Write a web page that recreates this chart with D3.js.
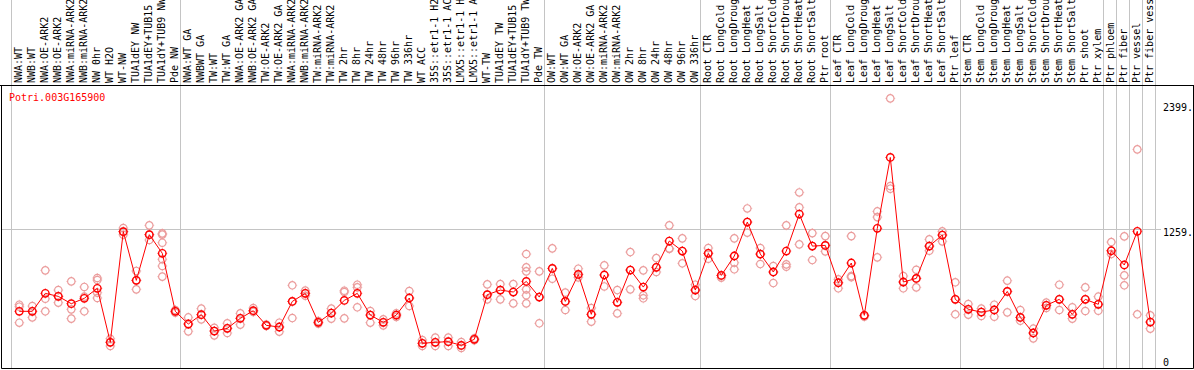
<!DOCTYPE html>
<html>
<head>
<meta charset="utf-8">
<script src="https://cdn.jsdelivr.net/npm/d3@7"></script>
<style>
  body { margin: 0; background: #fff; }
  svg { display: block; }
  text { font-family: "DejaVu Sans Mono", "Liberation Mono", monospace; font-size: 10px; }
</style>
</head>
<body>
<div id="chart"></div>
<script>
// Expression profile of one gene across samples

const geneName = "Potri.003G165900";

const sampleLabels = [
  "NWA:WT", "NWB:WT", "NWA:OE-ARK2", "NWB:OE-ARK2", "NWA:miRNA-ARK2", "NWB:miRNA-ARK2",
  "NW 0hr", "WT H2O", "WT-NW", "TUA1dEY NW", "TUA1dEY+TUB15 NW", "TUA1dY+TUB9 NW", "Pde NW",
  "NWA:WT GA", "NWBWT GA", "TW:WT", "TW:WT GA", "NWA:OE-ARK2 GA", "NWB:OE-ARK2 GA",
  "TW:OE-ARK2", "TW:OE-ARK2 GA", "NWA:miRNA-ARK2", "NWB:miRNA-ARK2", "TW:miRNA-ARK2",
  "TW:miRNA-ARK2", "TW 2hr", "TW 8hr", "TW 24hr", "TW 48hr", "TW 96hr", "TW 336hr",
  "WT ACC", "35S::etr1-1 H2O", "35S::etr1-1 ACC", "LMX5::etr1-1 H2O", "LMX5::etr1-1 ACC",
  "WT-TW", "TUA1dEY TW", "TUA1dEY+TUB15 TW", "TUA1dY+TUB9 TW", "Pde TW",
  "OW:WT", "OW:WT GA", "OW:OE-ARK2", "OW:OE-ARK2 GA", "OW:miRNA-ARK2", "OW:miRNA-ARK2",
  "OW 2hr", "OW 8hr", "OW 24hr", "OW 48hr", "OW 96hr", "OW 336hr",
  "Root CTR", "Root LongCold", "Root LongDrought", "Root LongHeat", "Root LongSalt",
  "Root ShortCold", "Root ShortDrought", "Root ShortHeat", "Root ShortSalt", "Ptr root",
  "Leaf CTR", "Leaf LongCold", "Leaf LongDrought", "Leaf LongHeat", "Leaf LongSalt",
  "Leaf ShortCold", "Leaf ShortDrought", "Leaf ShortHeat", "Leaf ShortSalt", "Ptr leaf",
  "Stem CTR", "Stem LongCold", "Stem LongDrought", "Stem LongHeat", "Stem LongSalt",
  "Stem ShortCold", "Stem ShortDrought", "Stem ShortHeat", "Stem ShortSalt", "Ptr shoot",
  "Ptr xylem", "Ptr phloem", "Ptr fiber", "Ptr vessel", "Ptr fiber vessel"
];

// group boundaries (index of first sample after each separator)
const groupBreaks = [0, 13, 41, 53, 63, 73, 84, 85, 86, 87, 88];

const meanValues = [
  459, 459, 633, 604, 533, 585, 682, 159, 1231, 759, 1202, 1021, 459,
  336, 427, 268, 294, 391, 465, 323, 307, 555, 633, 352, 442, 565, 633, 423, 352, 423, 588,
  149, 159, 165, 129, 188, 620, 665, 646, 749, 597,
  875, 555, 817, 430, 811, 546, 859, 694, 885, 1140, 1043, 665,
  1021, 807, 995, 1324, 1014, 840, 1043, 1401, 1091, 1098,
  736, 927, 420, 1263, 1950, 743, 778, 1091, 1198, 575,
  478, 452, 472, 652, 400, 249, 517, 575, 430, 575, 527,
  1046, 908, 1234, 355
];

const replicateValues = [
  [523, 504, 349], [510, 459, 400], [856, 581, 459], [665, 604, 543], [749, 478, 388],
  [695, 601, 459], [782, 762, 640, 588], [194, 159, 123], [1266, 1231, 1201], [850, 759, 672],
  [1292, 1202, 1150], [1214, 1202, 1124, 963, 898, 795], [472, 459, 446],
  [400, 336, 265], [485, 427, 381], [300, 268, 226], [343, 294, 249], [439, 391, 330],
  [491, 465, 453], [330, 323, 317], [349, 307, 262], [711, 555, 394], [660, 633, 610],
  [365, 352, 340], [485, 442, 388], [659, 646, 391], [717, 691, 498], [462, 423, 349],
  [381, 352, 323], [440, 423, 405], [656, 588, 511], [181, 149, 123], [204, 159, 123],
  [204, 165, 123], [162, 129, 104], [197, 188, 178], [720, 620, 575], [723, 665, 575],
  [723, 646, 536], [1014, 885, 846, 672, 614, 536], [846, 597, 343],
  [1069, 875, 775], [640, 555, 472], [872, 817, 788], [491, 430, 359], [904, 811, 700],
  [665, 546, 439], [1033, 859, 672], [856, 614, 585], [975, 885, 840], [1292, 1066, 1066],
  [1166, 1043, 924], [717, 665, 607],
  [1072, 1021, 969], [807, 785], [1166, 995, 930, 866], [1456, 1324, 1221], [1072, 1014, 917],
  [898, 840, 733], [1292, 914, 891], [1611, 1466, 1108], [1217, 1091, 956], [1188, 1098, 1040],
  [769, 736, 682], [1188, 801, 790], [420, 407], [1427, 1372, 982], [2522, 1673, 1647],
  [801, 743, 682], [862, 778, 691], [1156, 1091, 1046], [1234, 1198, 1137], [740, 575, 430],
  [530, 478, 427], [485, 452, 414], [523, 472, 407], [756, 652, 449], [472, 400, 368],
  [291, 249, 197], [543, 517, 491], [717, 575, 472], [498, 430, 388], [691, 575, 462],
  [601, 527, 465], [1130, 1046, 1014], [1185, 807, 711], [2028, 430], [420, 355, 291]
];

const yTickValues = [0, 1259, 2399];

// layout
const width = 1194, height = 370;
const plotTop = 85.5, plotBottom = 368.5, plotLeft = 1.5, plotRight = 1193.5;
const labelBase = 83;
const meanColor = "#ff0000";
const repColor = "#eb9c9c";
const gridColor = "#c4c4c4";

const svg = d3.select("#chart").append("svg")
  .attr("width", width)
  .attr("height", height);

const x = d3.scaleBand()
  .domain(d3.range(sampleLabels.length))
  .range([10.7, 10.7 + 13 * sampleLabels.length])
  .paddingInner(0).paddingOuter(0);
const cx = i => x(i) + 8.6;

const y = d3.scaleLinear()
  .domain([0, 2399])
  .range([358.7, 111.1]);

// vertical group separators (full height)
svg.append("g")
  .selectAll("line")
  .data(groupBreaks)
  .join("line")
  .attr("x1", d => Math.round(x(d) ?? x(d - 1) + 13) + 0.5)
  .attr("x2", d => Math.round(x(d) ?? x(d - 1) + 13) + 0.5)
  .attr("y1", 0)
  .attr("y2", plotBottom)
  .attr("stroke", gridColor)
  .attr("stroke-width", 1);

// horizontal grid line at middle tick
svg.append("line")
  .attr("x1", plotLeft)
  .attr("x2", 1161)
  .attr("y1", Math.round(y(1259)) + 0.5)
  .attr("y2", Math.round(y(1259)) + 0.5)
  .attr("stroke", gridColor);

// frame
svg.append("line")
  .attr("x1", 0).attr("x2", width)
  .attr("y1", plotTop).attr("y2", plotTop)
  .attr("stroke", "#000");
svg.append("path")
  .attr("d", `M${plotLeft},${plotTop}V${plotBottom}H${plotRight}V${plotTop}`)
  .attr("fill", "none")
  .attr("stroke", "#000");

// rotated sample labels
svg.append("g")
  .selectAll("text")
  .data(sampleLabels)
  .join("text")
  .attr("transform", (d, i) => `translate(${cx(i) + 3},${labelBase}) rotate(-90)`)
  .attr("fill", "#000")
  .text(d => d);

// right axis labels
svg.append("g")
  .selectAll("text")
  .data(yTickValues)
  .join("text")
  .attr("x", 1163)
  .attr("y", d => d === 2399 ? y(d) : y(d) + 7.5)
  .attr("fill", "#000")
  .text(d => d === 0 ? "0" : d + ".");

// gene name
svg.append("text")
  .attr("x", 9)
  .attr("y", 101)
  .attr("fill", meanColor)
  .text(geneName);

const stubs = "M0,-4.9V-3.9M0,3.9V4.9M-4.9,0H-3.9M3.9,0H4.9";

// replicate markers
const reps = replicateValues.flatMap((vals, i) => vals.map(v => ({ i, v })));
const repG = svg.append("g")
  .selectAll("g")
  .data(reps)
  .join("g")
  .attr("transform", d => `translate(${cx(d.i)},${y(d.v)})`);
repG.append("circle")
  .attr("r", 3.7)
  .attr("fill", "none")
  .attr("stroke", repColor)
  .attr("stroke-width", 1.2);
repG.append("path")
  .attr("d", stubs)
  .attr("stroke", repColor)
  .attr("stroke-width", 0.8);

// mean line
svg.append("path")
  .datum(meanValues)
  .attr("d", d3.line().x((d, i) => cx(i)).y(d => y(d)))
  .attr("fill", "none")
  .attr("stroke", meanColor)
  .attr("stroke-width", 1);

// mean markers
const meanG = svg.append("g")
  .selectAll("g")
  .data(meanValues)
  .join("g")
  .attr("transform", (d, i) => `translate(${cx(i)},${y(d)})`);
meanG.append("circle")
  .attr("r", 3.7)
  .attr("fill", "none")
  .attr("stroke", meanColor)
  .attr("stroke-width", 1.4);
meanG.append("path")
  .attr("d", stubs)
  .attr("stroke", meanColor)
  .attr("stroke-width", 0.8);
</script>
</body>
</html>
